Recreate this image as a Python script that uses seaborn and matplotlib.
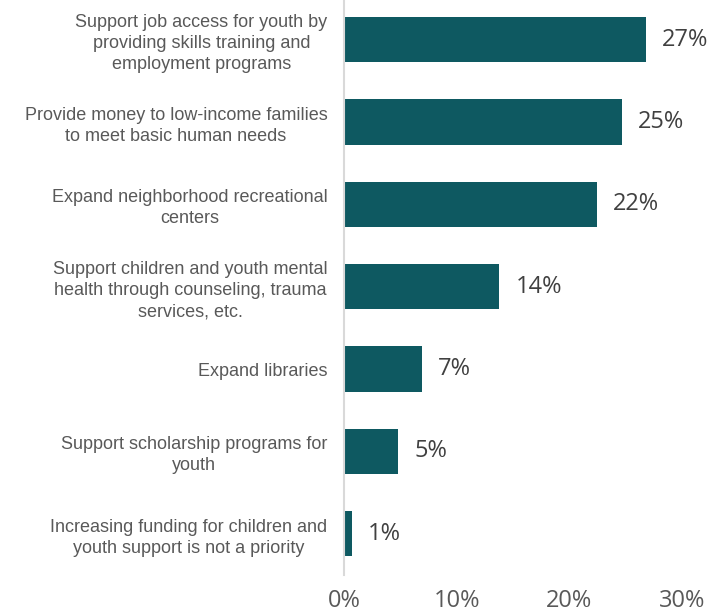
import matplotlib
matplotlib.use("Agg")
import matplotlib.pyplot as plt
import seaborn as sns
import pandas as pd

categories = [
    "Support job access for youth by\nproviding skills training and\nemployment programs",
    "Provide money to low-income families\nto meet basic human needs",
    "Expand neighborhood recreational\ncenters",
    "Support children and youth mental\nhealth through counseling, trauma\nservices, etc.",
    "Expand libraries",
    "Support scholarship programs for\nyouth",
    "Increasing funding for children and\nyouth support is not a priority",
]
values = [26.8, 24.7, 22.5, 13.8, 6.96, 4.83, 0.71]
xticks = [0, 10, 20, 30]
xtick_labels = ["0%", "10%", "20%", "30%"]

df = pd.DataFrame({"category": categories, "value": values})

sns.set_theme(style="white")
plt.rcParams["font.family"] = ["Liberation Sans", "DejaVu Sans"]

fig = plt.figure(figsize=(7.25, 6.13), dpi=100)
ax = fig.add_axes([0.4745, 0.062, 0.4658, 0.938])

sns.barplot(data=df, x="value", y="category", orient="h", color="#0E5961",
            saturation=1, width=0.55, ax=ax, edgecolor="none")

ax.set_xlim(0, 30)
ax.set_ylim(6.5, -0.48)
ax.set_xlabel("")
ax.set_ylabel("")

for s in ["top", "right", "bottom"]:
    ax.spines[s].set_visible(False)
ax.spines["left"].set_color("#D9D9D9")
ax.spines["left"].set_linewidth(1.5)

ax.set_xticks(xticks)
ax.set_xticklabels(xtick_labels, fontfamily="Open Sans", fontsize=17, color="#595959")
ax.tick_params(axis="x", length=0, pad=10)
ax.tick_params(axis="y", length=0, pad=12)
for lbl in ax.get_yticklabels():
    lbl.set_fontsize(13)
    lbl.set_color("#595959")
    lbl.set_multialignment("center")
    lbl.set_linespacing(1.3)

ax.bar_label(ax.containers[0], labels=[f"{round(v)}%" for v in values],
             padding=11.5, fontsize=17, fontfamily="Open Sans", color="#404040",
             clip_on=False)

fig.savefig("out.png", dpi=100)
